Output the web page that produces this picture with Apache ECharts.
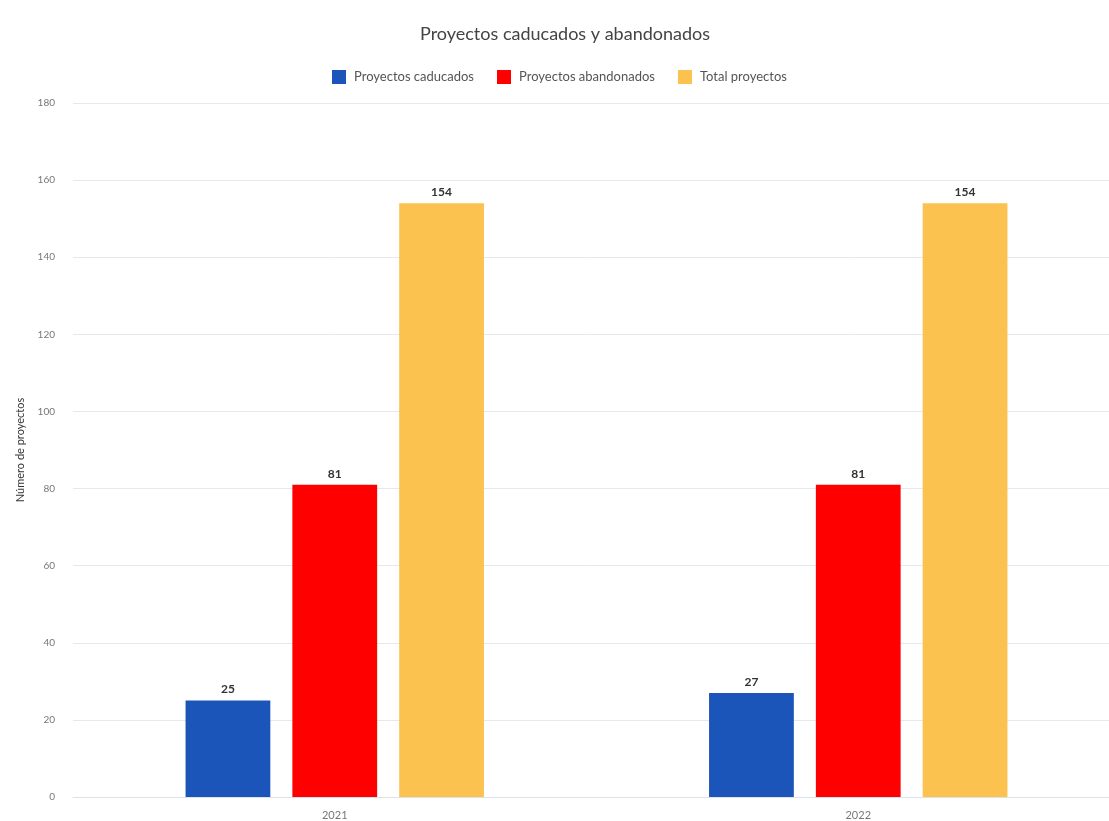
<!DOCTYPE html>
<html>
<head>
<meta charset="utf-8">
<script src="https://cdn.jsdelivr.net/npm/echarts@6/dist/echarts.min.js"></script>
<style>html,body{margin:0;padding:0;background:#fff;}#c{width:1109px;height:821px;}</style>
</head>
<body>
<div id="c"></div>
<script>
var categories = ['2021', '2022'];
var caducados = [25, 27];
var abandonados = [81, 81];
var totales = [154, 154];
var seriesNames = ['Proyectos caducados', 'Proyectos abandonados', 'Total proyectos'];
var yTicks = { min: 0, max: 180, interval: 20 };

var chart = echarts.init(document.getElementById('c'));
var labelStyle = { show: true, position: 'top', fontSize: 12, fontWeight: 'bold', color: '#333', fontFamily: 'Lato' };
chart.setOption({
  animation: false,
  textStyle: { fontFamily: 'Lato' },
  title: { text: 'Proyectos caducados y abandonados', left: 415, top: 20, textStyle: { fontSize: 18, fontWeight: 'normal', color: '#444', fontFamily: 'Lato' } },
  legend: { top: 65, left: 327, itemWidth: 14, itemHeight: 14, itemGap: 23, icon: 'rect', textStyle: { fontSize: 13, color: '#555', fontFamily: 'Lato', padding: [0, 0, 0, 3] }, data: seriesNames },
  grid: { left: 73, width: 1047, top: 103, bottom: 24, containLabel: false, outerBoundsMode: 'none' },
  xAxis: {
    type: 'category', data: categories,
    axisLine: { lineStyle: { color: '#dde1ea', width: 1 } },
    axisTick: { show: false },
    axisLabel: { color: '#777', fontSize: 11, margin: 13 }
  },
  yAxis: {
    type: 'value', min: yTicks.min, max: yTicks.max, interval: yTicks.interval,
    name: 'Número de proyectos', nameLocation: 'middle', nameGap: 47,
    nameTextStyle: { fontSize: 11, color: '#333' },
    axisLabel: { color: '#777', fontSize: 10, margin: 18 },
    splitLine: { lineStyle: { color: '#e6e8ee' } }
  },
  series: [
    { name: seriesNames[0], type: 'bar', data: caducados, itemStyle: { color: '#1b55b9' }, barGap: '26%', barCategoryGap: '43%', label: labelStyle },
    { name: seriesNames[1], type: 'bar', data: abandonados, itemStyle: { color: '#ff0000' }, label: labelStyle },
    { name: seriesNames[2], type: 'bar', data: totales, itemStyle: { color: '#fcc24f' }, label: labelStyle }
  ]
});
</script>
</body>
</html>
